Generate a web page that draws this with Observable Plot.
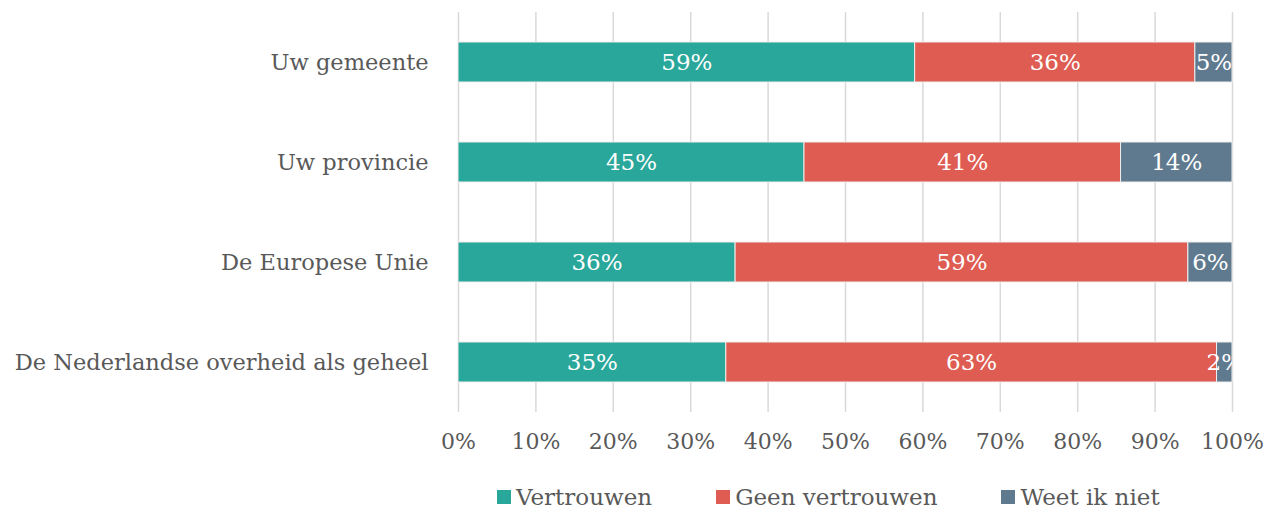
<!DOCTYPE html>
<html><head><meta charset="utf-8">
<script src="https://cdn.jsdelivr.net/npm/d3@7"></script>
<script src="https://cdn.jsdelivr.net/npm/@observablehq/plot@0.6"></script>
<style>
body{margin:0;background:#fff;font-family:"DejaVu Serif",serif;color:#595959}
#legend{display:flex;align-items:center;margin-left:497px;margin-top:20px;height:30px;font-size:23px;color:#595959}
.item{display:flex;align-items:center;margin-right:64px}
.sw{width:14px;height:14px;margin-right:5px}
</style>
</head><body><div id="chart"></div><div id="legend"></div>
<script>
const categories = ["Uw gemeente","Uw provincie","De Europese Unie","De Nederlandse overheid als geheel"];
const series = ["Vertrouwen","Geen vertrouwen","Weet ik niet"];
const colors = ["#2aa79b","#de5c52","#5f7a8f"];
const vertrouwen = [59.0, 44.7, 35.8, 34.6];
const geenVertrouwen = [36.2, 40.9, 58.5, 63.4];
const weetIkNiet = [4.8, 14.4, 5.7, 2.0];
const xTicks = [0,10,20,30,40,50,60,70,80,90,100];

const seriesValues = [vertrouwen, geenVertrouwen, weetIkNiet];
const data = [];
categories.forEach((c,i)=>series.forEach((s,j)=>data.push({category:c, series:s, value:seriesValues[j][i]})));

const plot = Plot.plot({
  width:1267, height:462,
  marginLeft:458, marginRight:35, marginTop:12, marginBottom:50,
  style:{fontFamily:'"DejaVu Serif",serif', color:"#595959", background:"#fff"},
  x:{domain:[0,100]},
  y:{domain:categories, paddingInner:0.6, paddingOuter:0.3},
  color:{domain:series, range:colors},
  marks:[
    Plot.gridX({ticks:xTicks, stroke:"#d9d9d9", strokeOpacity:1, strokeWidth:1.5}),
    Plot.barX(data, Plot.stackX({x:"value", y:"category", fill:"series", order:series, stroke:"#eeeeee", strokeWidth:1})),
    Plot.text(data, Plot.stackX({x:"value", y:"category", z:"series", order:series, text:d=>Math.round(d.value)+"%", fill:"white", fontSize:23, clip:true})),
    Plot.axisX({ticks:xTicks, tickFormat:d=>d+"%", tickSize:0, tickPadding:21, fontSize:22, label:null}),
    Plot.axisY({tickSize:0, tickPadding:30, fontSize:22.5, label:null})
  ]
});
document.getElementById("chart").appendChild(plot);

const legend = document.getElementById("legend");
series.forEach((s,i)=>{
  const it=document.createElement("div"); it.className="item";
  const sw=document.createElement("div"); sw.className="sw"; sw.style.background=colors[i];
  const t=document.createElement("span"); t.textContent=s;
  it.appendChild(sw); it.appendChild(t); legend.appendChild(it);
});
</script>
</body></html>
